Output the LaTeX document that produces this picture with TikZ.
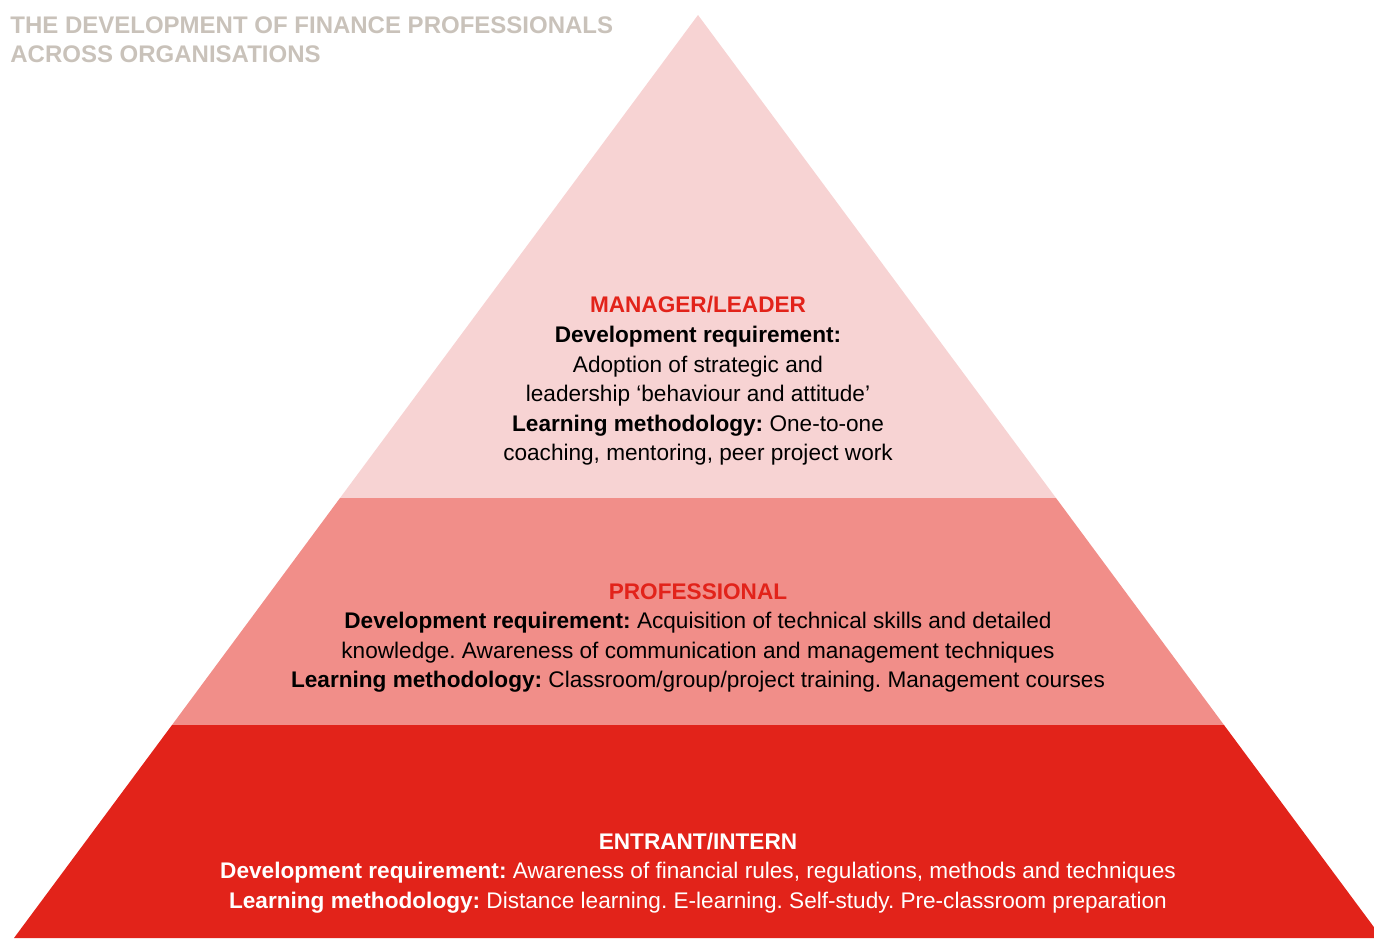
\documentclass[tikz,border=0pt]{standalone}
\usepackage{fontspec}
\setmainfont{Liberation Sans}
\usetikzlibrary{positioning}

\definecolor{tiertop}{HTML}{F7D3D3}
\definecolor{tiermid}{HTML}{F18E89}
\definecolor{tierbase}{HTML}{E2231A}
\definecolor{headred}{HTML}{E2231A}
\definecolor{titlegray}{HTML}{C9C2BA}

\begin{document}
\frenchspacing
\begin{tikzpicture}[x=0.5pt, y=-0.5pt,
    tier/.style={align=center, inner sep=0pt, font=\fontsize{11.3}{14.8}\selectfont},
    heading/.style={font=\bfseries}]

        \useasboundingbox (0,0) rectangle (1374,938);
        \clip (0,0) rectangle (1374,938);

        % Pyramid corners
        \coordinate (apex) at (698,15);
        \coordinate (topL) at (340,498);
        \coordinate (topR) at (1056,498);
        \coordinate (midL) at (172,725);
        \coordinate (midR) at (1224,725);
        \coordinate (baseL) at (14,938);
        \coordinate (baseR) at (1382,938);

        % Tiers
        \fill[tiertop] (apex) -- (topL) -- (topR) -- cycle;
        \fill[tiermid] (topL) -- (midL) -- (midR) -- (topR) -- cycle;
        \fill[tierbase] (midL) -- (baseL) -- (baseR) -- (midR) -- cycle;

        % Title
        \node (title) [anchor=north west, align=left, inner sep=0pt, text=titlegray,
                    font=\fontsize{12}{14.5}\selectfont\bfseries] at (10,16)
                    {THE DEVELOPMENT OF FINANCE PROFESSIONALS\\ACROSS ORGANISATIONS};

        % Labels
        \node (leader) [tier] at (698,381)
                    {\textcolor{headred}{\textbf{MANAGER/LEADER}}\\
                    \textbf{Development requirement:}\\
                    Adoption of strategic and\\
                    leadership ‘behaviour and attitude’\\
                    \textbf{Learning methodology:} One-to-one\\
                    coaching, mentoring, peer project work};

        \node (professional) [tier] at (698,638)
                    {\textcolor{headred}{\textbf{PROFESSIONAL}}\\
                    \textbf{Development requirement:} Acquisition of technical skills and detailed\\
                    knowledge. Awareness of communication and management techniques\\
                    \textbf{Learning methodology:} Classroom/group/project training. Management courses};

        \node (entrant) [tier, text=white] at (698,873)
                    {\textbf{ENTRANT/INTERN}\\
                    \textbf{Development requirement:} Awareness of financial rules, regulations, methods and techniques\\
                    \textbf{Learning methodology:} Distance learning. E-learning. Self-study. Pre-classroom preparation};

\end{tikzpicture}
\end{document}
